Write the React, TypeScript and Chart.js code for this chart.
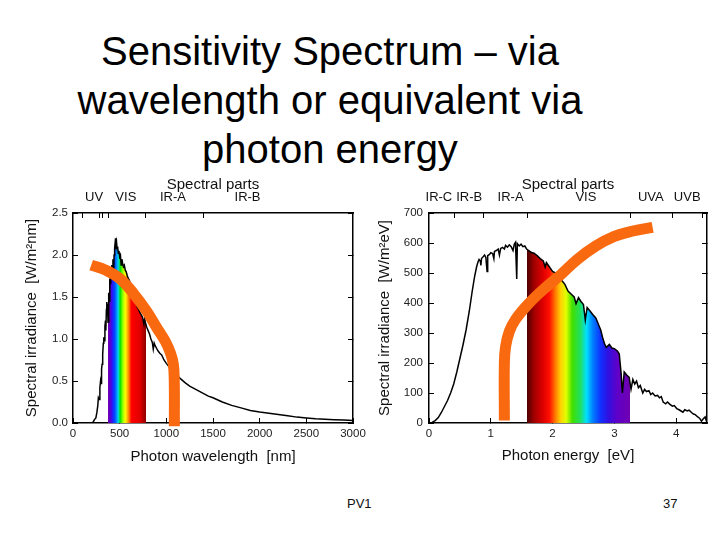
import React, { useEffect, useRef } from 'react';
import { Chart, registerables } from 'chart.js';

Chart.register(...registerables);

const FONT = '"Liberation Sans", Arial, Helvetica, sans-serif';

// ---------- slide texts ----------
const titleLines = ['Sensitivity Spectrum – via', 'wavelength or equivalent via', 'photon energy'];
const footerLeft = 'PV1';
const footerRight = '37';

// ---------- left panel: wavelength ----------
const wlNm = [200, 215, 230, 245, 255, 265, 272, 280, 288, 295, 300, 306, 312, 318, 325, 330, 336, 342, 348, 352, 358, 362, 366, 370, 375, 380, 385, 390, 394, 398, 404, 410, 416, 422, 428, 434, 440, 446, 452, 456, 460, 466, 472, 478, 485, 492, 500, 508, 516, 524, 532, 540, 550, 560, 570, 580, 592, 604, 616, 628, 640, 652, 664, 676, 688, 700, 715, 730, 745, 760, 768, 775, 790, 805, 820, 835, 850, 860, 870, 880, 895, 910, 930, 950, 975, 1000, 1030, 1060, 1090, 1120, 1160, 1200, 1250, 1300, 1350, 1400, 1450, 1500, 1600, 1700, 1800, 1900, 2000, 2100, 2200, 2300, 2400, 2500, 2600, 2700, 2800, 2900, 3000];
const wlIrr = [0.0, 0.01, 0.04, 0.06, 0.12, 0.2, 0.3, 0.28, 0.42, 0.5, 0.47, 0.64, 0.7, 0.82, 0.95, 1.02, 0.98, 1.15, 1.22, 1.1, 1.35, 1.44, 1.3, 1.42, 1.2, 1.4, 1.55, 1.45, 1.72, 1.66, 1.84, 1.78, 1.88, 1.8, 1.95, 1.7, 2.0, 2.08, 2.15, 2.2, 2.12, 2.16, 2.08, 2.1, 2.02, 2.05, 1.98, 2.0, 1.88, 1.95, 1.9, 1.86, 1.88, 1.82, 1.8, 1.76, 1.72, 1.7, 1.64, 1.62, 1.56, 1.52, 1.46, 1.44, 1.38, 1.36, 1.32, 1.29, 1.26, 1.18, 1.24, 1.2, 1.14, 1.1, 1.06, 1.0, 0.96, 0.88, 0.95, 0.92, 0.89, 0.86, 0.83, 0.81, 0.75, 0.71, 0.67, 0.63, 0.6, 0.56, 0.52, 0.48, 0.44, 0.41, 0.38, 0.35, 0.32, 0.3, 0.25, 0.21, 0.18, 0.15, 0.13, 0.115, 0.1, 0.085, 0.07, 0.06, 0.05, 0.045, 0.04, 0.035, 0.03];
const wlSensNm = [195, 350, 500, 650, 790, 900, 990, 1045, 1075, 1085, 1086];
const wlSensVal = [1.88, 1.82, 1.72, 1.54, 1.33, 1.13, 0.97, 0.83, 0.7, 0.5, -0.04];
const wlPartLabels = ['UV', 'VIS', 'IR-A', 'IR-B'];
const wlPartPos = [226, 566, 1071, 1870];
const wlPartBounds = [100, 280, 315, 380, 780, 1400];
const wlVisStops = [380, 405, 425, 450, 475, 490, 505, 530, 560, 585, 605, 625, 720, 780];
const wlVisColors = ['#7000b8', '#5000d8', '#2020ff', '#0050ff', '#00b0ff', '#00e0c0', '#00e000', '#80ff00', '#ffff00', '#ffb000', '#ff6000', '#ff0000', '#e00000', '#900000'];

// ---------- right panel: photon energy ----------
const evE = [0.0, 0.05, 0.1, 0.15, 0.2, 0.25, 0.3, 0.35, 0.4, 0.45, 0.5, 0.55, 0.6, 0.65, 0.7, 0.74, 0.77, 0.79, 0.81, 0.83, 0.84, 0.85, 0.88, 0.9, 0.92, 0.94, 0.95, 0.98, 1.0, 1.03, 1.05, 1.06, 1.09, 1.12, 1.14, 1.16, 1.19, 1.22, 1.24, 1.27, 1.3, 1.33, 1.36, 1.38, 1.4, 1.42, 1.43, 1.46, 1.49, 1.52, 1.55, 1.58, 1.62, 1.66, 1.7, 1.75, 1.8, 1.85, 1.88, 1.9, 1.95, 2.0, 2.05, 2.1, 2.15, 2.2, 2.25, 2.3, 2.35, 2.38, 2.42, 2.46, 2.5, 2.53, 2.56, 2.6, 2.65, 2.7, 2.74, 2.78, 2.81, 2.84, 2.87, 2.92, 2.96, 3.0, 3.05, 3.08, 3.11, 3.13, 3.16, 3.2, 3.24, 3.27, 3.3, 3.33, 3.36, 3.39, 3.42, 3.46, 3.49, 3.52, 3.56, 3.59, 3.62, 3.66, 3.7, 3.73, 3.76, 3.79, 3.83, 3.86, 3.9, 3.94, 3.97, 4.01, 4.04, 4.08, 4.11, 4.14, 4.18, 4.21, 4.25, 4.28, 4.31, 4.35, 4.38, 4.41, 4.44, 4.47, 4.5];
const evIrr = [0, 2, 8, 18, 35, 55, 75, 100, 130, 170, 215, 260, 310, 370, 440, 490, 520, 535, 545, 540, 525, 548, 555, 560, 552, 505, 558, 562, 568, 565, 548, 572, 575, 580, 560, 582, 585, 580, 592, 586, 594, 588, 575, 596, 602, 480, 598, 590, 596, 588, 590, 580, 574, 568, 566, 558, 548, 540, 520, 535, 520, 505, 500, 485, 475, 462, 440, 430, 420, 398, 418, 405, 395, 343, 385, 375, 362, 350, 330, 310, 285, 265, 252, 262, 250, 248, 240, 230, 165, 100, 170, 160, 152, 112, 145, 130, 140, 118, 125, 100, 112, 105, 108, 95, 100, 90, 92, 84, 88, 70, 64, 70, 62, 56, 58, 48, 45, 40, 36, 44, 40, 43, 35, 30, 28, 20, 16, 6, 14, 20, 0];
const evSensE = [1.22, 1.22, 1.24, 1.3, 1.4, 1.6, 1.85, 2.11, 2.4, 2.7, 3.0, 3.3, 3.62];
const evSensVal = [8, 200, 255, 305, 345, 395, 445, 490, 545, 590, 622, 640, 652];
const evPartLabels = ['IR-C', 'IR-B', 'IR-A', 'VIS', 'UVA', 'UVB'];
const evPartPos = [0.16, 0.65, 1.32, 2.54, 3.59, 4.18];
const evPartBounds = [0.413, 0.886, 1.59, 3.26, 3.94, 4.43];
const evVisStops = [1.59, 1.7, 1.85, 1.95, 2.05, 2.13, 2.22, 2.32, 2.45, 2.55, 2.65, 2.78, 2.9, 3.05, 3.26];
const evVisColors = ['#500000', '#a00000', '#e00000', '#ff1000', '#ff8000', '#ffd000', '#e0ff00', '#40e000', '#20e060', '#00e0ff', '#0080ff', '#1030ff', '#3010e0', '#6000c8', '#7000b0'];

const ORANGE = '#F96A10';
const TRANSPARENT = 'rgba(255,255,255,0)';

type PanelCfg = {
  xs: number[]; ys: number[]; sx: number[]; sy: number[];
  xMin: number; xMax: number; xStep: number;
  yMin: number; yMax: number; yStep: number;
  xTitle: string; yTitle: string;
  partLabels: string[]; partPos: number[]; partBounds: number[];
  visStops: number[]; visColors: string[];
  yFmt: (v: number) => string;
  leftW: number; rightW: number; yTitlePad: number; yTickPad: number; xTitlePad: number;
};

function buildConfig(c: PanelCfg): any {
  const tickFont = { family: FONT, size: 11.5 };
  const titleFont = { family: FONT, size: 15 };
  const grid = { drawOnChartArea: false, tickLength: -5, color: '#000', lineWidth: 1 };
  const border = { color: '#000', width: 1.5 };
  const visGradient = (ctx: any) => {
    const chart = ctx.chart;
    const xs = chart.scales && chart.scales.x;
    if (!chart.chartArea || !xs) return TRANSPARENT;
    const p0 = xs.getPixelForValue(c.xMin);
    const p1 = xs.getPixelForValue(c.xMax);
    const g = chart.ctx.createLinearGradient(p0, 0, p1, 0);
    const off = (v: number) => Math.min(1, Math.max(0, (xs.getPixelForValue(v) - p0) / (p1 - p0)));
    g.addColorStop(0, TRANSPARENT);
    c.visStops.forEach((v, i) => {
      if (i === 0) g.addColorStop(off(v), TRANSPARENT);
      g.addColorStop(off(v), c.visColors[i]);
      if (i === c.visStops.length - 1) g.addColorStop(off(v), TRANSPARENT);
    });
    g.addColorStop(1, TRANSPARENT);
    return g;
  };
  return {
    type: 'line',
    data: {
      datasets: [
        {
          data: c.sx.map((x, i) => ({ x, y: c.sy[i] })),
          xAxisID: 'x', yAxisID: 'y',
          borderColor: ORANGE, borderWidth: 11, borderCapStyle: 'butt',
          tension: 0.4, pointRadius: 0, fill: false, clip: false, order: 0,
        },
        {
          data: c.xs.map((x, i) => ({ x, y: c.ys[i] })),
          xAxisID: 'x', yAxisID: 'y',
          borderColor: '#000', borderWidth: 1.5, tension: 0, pointRadius: 0,
          fill: 'origin', backgroundColor: visGradient, order: 1,
        },
      ],
    },
    options: {
      responsive: false,
      animation: false,
      devicePixelRatio: 1,
      events: [],
      layout: { padding: 0 },
      plugins: { legend: { display: false }, tooltip: { enabled: false }, title: { display: false } },
      scales: {
        x: {
          type: 'linear', position: 'bottom', min: c.xMin, max: c.xMax,
          ticks: {
            stepSize: c.xStep, includeBounds: false, padding: 9, color: '#222', font: tickFont,
            autoSkip: false, maxRotation: 0, callback: (v: number) => String(v),
          },
          grid, border,
          title: { display: true, text: c.xTitle, color: '#111', font: titleFont, padding: { top: 0, bottom: c.xTitlePad } },
          afterFit: (s: any) => { s.height = 52; s.paddingLeft = 0; s.paddingRight = 0; },
        },
        x2: {
          type: 'linear', position: 'top', min: c.xMin, max: c.xMax, weight: 0,
          ticks: { display: false },
          afterBuildTicks: (s: any) => { s.ticks = c.partBounds.map((v) => ({ value: v })); },
          grid, border,
          afterFit: (s: any) => { s.height = 0; s.paddingLeft = 0; s.paddingRight = 0; },
        },
        x3: {
          type: 'linear', position: 'top', min: c.xMin, max: c.xMax, weight: 10,
          grid: { display: false }, border: { display: false },
          afterBuildTicks: (s: any) => { s.ticks = c.partPos.map((v) => ({ value: v })); },
          ticks: {
            autoSkip: false, maxRotation: 0, minRotation: 0, padding: 0, color: '#111',
            font: { family: FONT, size: 13 },
            callback: (_v: number, i: number) => c.partLabels[i],
          },
          title: { display: true, text: 'Spectral parts', color: '#111', font: titleFont, padding: { top: 6, bottom: 0 } },
          afterFit: (s: any) => { s.height = 43; s.paddingLeft = 0; s.paddingRight = 0; },
        },
        y: {
          type: 'linear', position: 'left', min: c.yMin, max: c.yMax,
          ticks: { stepSize: c.yStep, padding: c.yTickPad, color: '#222', font: tickFont, callback: (v: number) => c.yFmt(v) },
          grid, border,
          title: { display: true, text: c.yTitle, color: '#111', font: titleFont, padding: { top: c.yTitlePad, bottom: 0 } },
          afterFit: (s: any) => { s.width = c.leftW; },
        },
        y2: {
          type: 'linear', position: 'right', min: c.yMin, max: c.yMax,
          ticks: { display: false, stepSize: c.yStep },
          grid, border,
          afterFit: (s: any) => { s.width = c.rightW; },
        },
      },
    },
  };
}

const leftCfg: PanelCfg = {
  xs: wlNm, ys: wlIrr, sx: wlSensNm, sy: wlSensVal,
  xMin: 0, xMax: 3000, xStep: 500, yMin: 0, yMax: 2.5, yStep: 0.5,
  xTitle: 'Photon wavelength  [nm]', yTitle: 'Spectral irradiance  [W/m²nm]',
  partLabels: wlPartLabels, partPos: wlPartPos, partBounds: wlPartBounds,
  visStops: wlVisStops, visColors: wlVisColors,
  yFmt: (v) => Number(v).toFixed(1),
  leftW: 53, rightW: 17, yTitlePad: 3, yTickPad: 10, xTitlePad: 9,
};

const rightCfg: PanelCfg = {
  xs: evE, ys: evIrr, sx: evSensE, sy: evSensVal,
  xMin: 0, xMax: 4.5, xStep: 1, yMin: 0, yMax: 700, yStep: 100,
  xTitle: 'Photon energy  [eV]', yTitle: 'Spectral irradiance  [W/m²eV]',
  partLabels: evPartLabels, partPos: evPartPos, partBounds: evPartBounds,
  visStops: evVisStops, visColors: evVisColors,
  yFmt: (v) => String(v),
  leftW: 59, rightW: 13, yTitlePad: 6, yTickPad: 11, xTitlePad: 10,
};

function Panel({ cfg, left, top }: { cfg: PanelCfg; left: number; top: number }) {
  const ref = useRef<HTMLCanvasElement>(null);
  useEffect(() => {
    if (!ref.current) return;
    const chart = new Chart(ref.current, buildConfig(cfg));
    return () => chart.destroy();
  }, [cfg]);
  return (
    <canvas
      ref={ref}
      width={350}
      height={305}
      style={{ position: 'absolute', left, top, width: 350, height: 305 }}
    />
  );
}

export default function App() {
  return (
    <div
      style={{
        position: 'fixed', left: 0, top: 0, width: 720, height: 540,
        background: '#fff', overflow: 'hidden', fontFamily: FONT, color: '#000',
      }}
    >
      <div
        style={{
          position: 'absolute', left: 0, top: 27, width: 660, textAlign: 'center',
          fontSize: 40, lineHeight: '49px',
        }}
      >
        {titleLines.map((t) => (
          <div key={t}>{t}</div>
        ))}
      </div>
      <Panel cfg={leftCfg} left={20} top={170} />
      <Panel cfg={rightCfg} left={370} top={170} />
      <div style={{ position: 'absolute', left: 347, top: 496, fontSize: 13, lineHeight: '15px', color: '#111' }}>
        {footerLeft}
      </div>
      <div style={{ position: 'absolute', left: 663, top: 496, fontSize: 13, lineHeight: '15px', color: '#111' }}>
        {footerRight}
      </div>
    </div>
  );
}
